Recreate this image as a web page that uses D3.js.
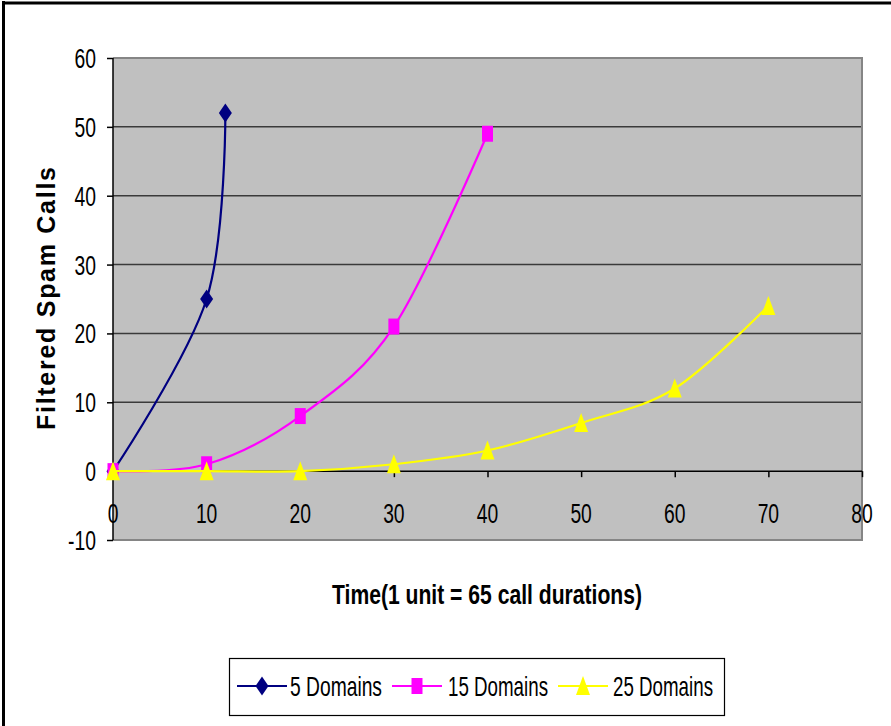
<!DOCTYPE html>
<html>
<head>
<meta charset="utf-8">
<script src="https://cdn.jsdelivr.net/npm/d3@7"></script>
<style>
  html, body { margin: 0; padding: 0; background: #fff; }
  svg { display: block; font-family: "Liberation Sans", Arial, sans-serif; }
</style>
</head>
<body>
<svg id="chart" width="891" height="726"></svg>
<script>
// Series data: time units vs filtered spam calls
const seriesNames = ["5 Domains", "15 Domains", "25 Domains"];
const times5 = [0, 10, 12];
const calls5 = [0, 25, 52];
const times15 = [0, 10, 20, 30, 40];
const calls15 = [0, 1, 8, 21, 49];
const times25 = [0, 10, 20, 30, 40, 50, 60, 70];
const calls25 = [0, 0, 0, 1, 3, 7, 12, 24];
const xTicks = [0, 10, 20, 30, 40, 50, 60, 70, 80];
const yTicks = [-10, 0, 10, 20, 30, 40, 50, 60];
const xTitle = "Time(1 unit = 65 call durations)";
const yTitle = "Filtered Spam Calls";

const series = [
  { name: seriesNames[0], xs: times5, ys: calls5, color: "#000080", marker: "diamond" },
  { name: seriesNames[1], xs: times15, ys: calls15, color: "#ff00ff", marker: "square" },
  { name: seriesNames[2], xs: times25, ys: calls25, color: "#ffff00", marker: "triangle" }
];

const svg = d3.select("#chart");
const plot = { left: 113, right: 862, top: 58, bottom: 540 };

const x = d3.scaleLinear().domain([0, 80]).range([plot.left, plot.right]);
const y = d3.scaleLinear().domain([-10, 60]).range([plot.bottom, plot.top]);

// Outer frame (left and top edges)
svg.append("line").attr("x1", 3.5).attr("x2", 3.5).attr("y1", 1).attr("y2", 726)
  .attr("stroke", "#000").attr("stroke-width", 3);
svg.append("line").attr("x1", 2).attr("x2", 891).attr("y1", 3).attr("y2", 3)
  .attr("stroke", "#000").attr("stroke-width", 3);

// Plot area
svg.append("rect")
  .attr("x", plot.left).attr("y", plot.top)
  .attr("width", plot.right - plot.left).attr("height", plot.bottom - plot.top)
  .attr("fill", "#c0c0c0");

// Horizontal gridlines
svg.append("g").selectAll("line")
  .data(yTicks.filter(v => v > 0 && v < 60))
  .join("line")
  .attr("x1", plot.left).attr("x2", plot.right)
  .attr("y1", d => y(d)).attr("y2", d => y(d))
  .attr("stroke", "#3a3a3a").attr("stroke-width", 1.5);

// Plot border (top, right, bottom)
svg.append("path")
  .attr("d", `M${plot.left},${plot.top}H${plot.right}V${plot.bottom}H${plot.left}`)
  .attr("fill", "none").attr("stroke", "#858585").attr("stroke-width", 2);

// Y axis
const yAxis = svg.append("g")
  .attr("transform", `translate(${plot.left},0)`)
  .call(d3.axisLeft(y).tickValues(yTicks).tickSize(6).tickFormat(""));
yAxis.selectAll("path, line").attr("stroke", "#000").attr("stroke-width", 1.5);
yAxis.select(".domain").attr("d", `M0,${plot.top}V${plot.bottom}`);

// X axis at y = 0
const xAxis = svg.append("g")
  .attr("transform", `translate(0,${y(0)})`)
  .call(d3.axisBottom(x).tickValues(xTicks).tickSize(6).tickFormat(""));
xAxis.selectAll("path, line").attr("stroke", "#000").attr("stroke-width", 1.5);
xAxis.select(".domain").attr("d", `M${plot.left},0H${plot.right}`);

// Narrow text helper
function narrowText(g, tx, ty, str, size, sx, anchor, weight) {
  return g.append("text")
    .attr("transform", `translate(${tx},${ty}) scale(${sx},1)`)
    .attr("text-anchor", anchor)
    .attr("font-size", size)
    .attr("font-weight", weight || "normal")
    .attr("fill", "#000")
    .text(str);
}

const labels = svg.append("g");
yTicks.forEach(v => narrowText(labels, 96, y(v) + 10, String(v), 28, 0.69, "end"));
xTicks.forEach(v => narrowText(labels, x(v), 523, String(v), 28, 0.69, "middle"));

// Axis titles
svg.append("text")
  .attr("x", 487).attr("y", 604)
  .attr("text-anchor", "middle")
  .attr("font-size", 28).attr("font-weight", "bold")
  .attr("textLength", 310).attr("lengthAdjust", "spacingAndGlyphs")
  .text(xTitle);

svg.append("text")
  .attr("transform", "translate(55,298.5) rotate(-90)")
  .attr("text-anchor", "middle")
  .attr("font-size", 25).attr("font-weight", "bold")
  .attr("textLength", 263).attr("lengthAdjust", "spacing")
  .text(yTitle);

// Marker shapes
function markerPath(type) {
  if (type === "diamond") return "M0,-9.5L6.5,0L0,9.5L-6.5,0Z";
  if (type === "square") return "M-5.5,-8H5.5V8H-5.5Z";
  return "M0,-10L7,9H-7Z";
}

const line = d3.line().curve(d3.curveCardinal.tension(0));

series.forEach(s => {
  const pts = s.xs.map((v, i) => [x(v), y(s.ys[i])]);
  const g = svg.append("g");
  g.append("path")
    .attr("d", line(pts))
    .attr("fill", "none")
    .attr("stroke", s.color)
    .attr("stroke-width", 2.2);
  g.selectAll("path.m")
    .data(pts)
    .join("path")
    .attr("class", "m")
    .attr("transform", d => `translate(${d[0]},${d[1]})`)
    .attr("d", markerPath(s.marker))
    .attr("fill", s.color);
});

// Legend
const legend = svg.append("g");
legend.append("rect")
  .attr("x", 229.5).attr("y", 658.5).attr("width", 495).attr("height", 57)
  .attr("fill", "#fff").attr("stroke", "#000").attr("stroke-width", 1.2);

const legendItems = [
  { lx: 237, tx: 290, tl: 92 },
  { lx: 392, tx: 448, tl: 100 },
  { lx: 558, tx: 613, tl: 100 }
];
series.forEach((s, i) => {
  const it = legendItems[i];
  const ly = 686;
  legend.append("line")
    .attr("x1", it.lx).attr("x2", it.lx + 50).attr("y1", ly).attr("y2", ly)
    .attr("stroke", s.color).attr("stroke-width", 2.2);
  legend.append("path")
    .attr("transform", `translate(${it.lx + 25},${ly})`)
    .attr("d", markerPath(s.marker))
    .attr("fill", s.color);
  legend.append("text")
    .attr("x", it.tx).attr("y", ly + 10)
    .attr("font-size", 28)
    .attr("textLength", it.tl).attr("lengthAdjust", "spacingAndGlyphs")
    .attr("fill", "#000")
    .text(s.name);
});
</script>
</body>
</html>
